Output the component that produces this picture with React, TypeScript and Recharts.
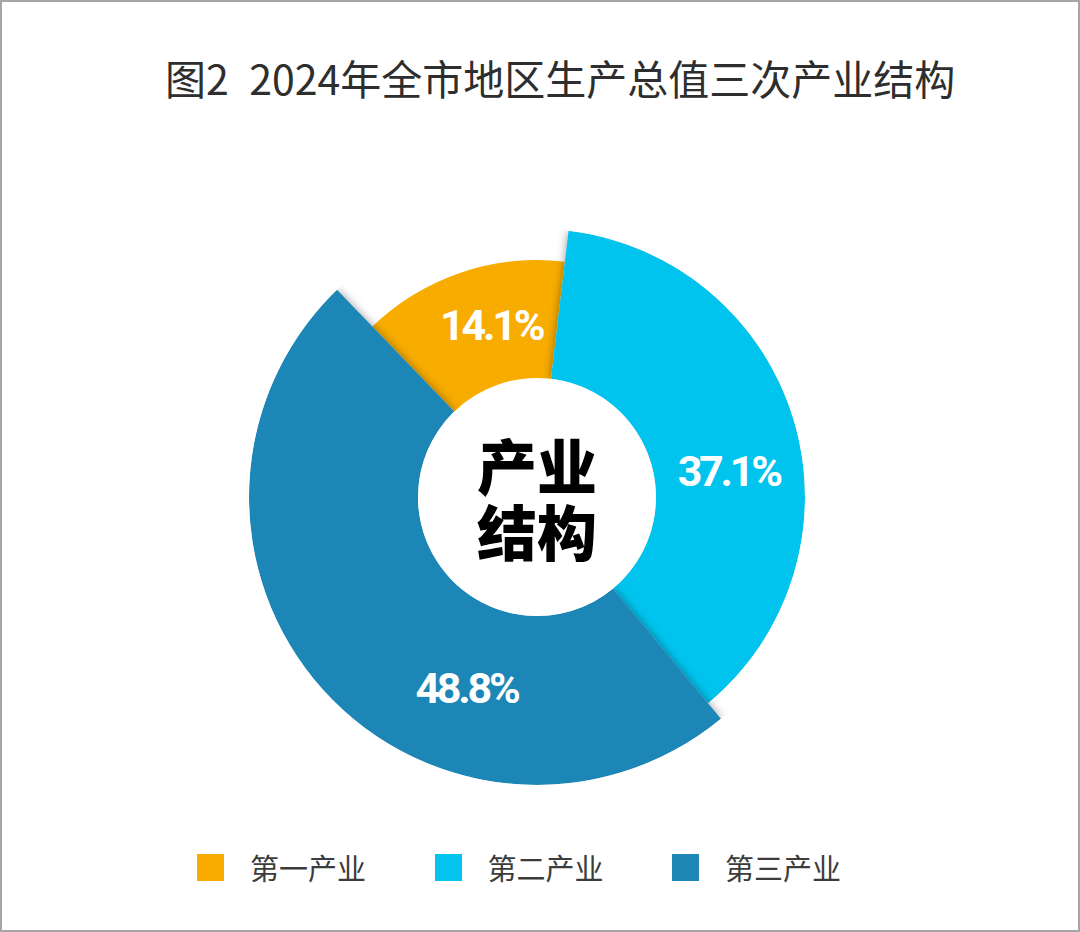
import React from 'react'
import { PieChart, Pie, Cell, Legend } from 'recharts'

// 2024 GDP structure by sector (%)
const categories = ['第一产业', '第二产业', '第三产业']
const shares = [14.1, 37.1, 48.8]

const colors = ['#F8AC00', '#05C4EE', '#1F87B6']
// each slice sticks out a bit further than the previous one
const outerRadii = [237, 268, 288]
// nudges the % labels off the slice middle, in degrees
const labelAngleShift = [-3.7, -8.8, 27.9]

const data = categories.map((name, i) => ({ name, value: shares[i] }))

const RADIAN = Math.PI / 180
const CX = 537
const CY = 497
const INNER = 119
const START = 134

const cjk = '"Noto Sans CJK SC", "Noto Sans", sans-serif'

// ring between the hole and a given radius, used to keep the shadow off the arcs
function ringPath(r1: number, r2: number) {
  const c = (r: number) =>
    `M${CX - r},${CY} a${r},${r} 0 1,0 ${2 * r},0 a${r},${r} 0 1,0 ${-2 * r},0 Z`
  return c(r2) + ' ' + c(r1)
}

function makeLabel(slice: number) {
  return (props: any) => {
    if (props.index !== slice) return null
    const { cx, cy, midAngle, innerRadius, outerRadius, value } = props
    const a = (midAngle + labelAngleShift[slice]) * RADIAN
    const r = (innerRadius + outerRadius) / 2
    return (
      <text
        x={cx + r * Math.cos(a)}
        y={cy - r * Math.sin(a)}
        fill="#fff"
        textAnchor="middle"
        dominantBaseline="central"
        fontFamily="Roboto, sans-serif"
        fontWeight={700}
        fontSize={43}
        letterSpacing={-3.2}
      >
        {`${value}%`}
      </text>
    )
  }
}

function LegendBox() {
  return (
    <div style={{ display: 'flex', paddingLeft: 197, height: 27 }}>
      {categories.map((name, i) => (
        <div key={name} style={{ display: 'flex', alignItems: 'center', width: 237.5 }}>
          <span style={{ width: 27, height: 27, background: colors[i], display: 'inline-block' }} />
          <span
            style={{
              marginLeft: 26,
              fontFamily: cjk,
              fontSize: 29,
              lineHeight: '27px',
              color: '#3c3c3c',
            }}
          >
            {name}
          </span>
        </div>
      ))}
    </div>
  )
}

const centerLine: React.CSSProperties = {
  position: 'absolute',
  left: CX - 100,
  width: 200,
  textAlign: 'center',
  fontFamily: cjk,
  fontWeight: 900,
  fontSize: 60,
  lineHeight: '60px',
  color: '#000',
}

export default function App(): React.JSX.Element {
  return (
    <div
      style={{
        position: 'relative',
        width: 1080,
        height: 932,
        background: '#fff',
        boxShadow: 'inset 0 0 0 2px #a6a6a6',
      }}
    >
      <style>{`body{margin:0}
.slice-1 .recharts-pie-sector{filter:url(#sliceShadow);clip-path:url(#ring1)}
.slice-2 .recharts-pie-sector{filter:url(#sliceShadow);clip-path:url(#ring2)}`}</style>
      <svg width={0} height={0} style={{ position: 'absolute' }}>
        <defs>
          <filter id="sliceShadow" x="-20%" y="-20%" width="140%" height="140%">
            <feDropShadow dx={0} dy={0} stdDeviation={5} floodColor="#000" floodOpacity={0.4} />
          </filter>
          <clipPath id="ring1">
            <path d={ringPath(INNER, outerRadii[1])} clipRule="evenodd" />
          </clipPath>
          <clipPath id="ring2">
            <path d={ringPath(INNER, outerRadii[2])} clipRule="evenodd" />
          </clipPath>
        </defs>
      </svg>

      <div
        style={{
          position: 'absolute',
          left: 165,
          top: 57,
          fontFamily: cjk,
          fontWeight: 400,
          fontSize: 41,
          lineHeight: '41px',
          color: '#2e2e2e',
          whiteSpace: 'nowrap',
        }}
      >
        图2{'\u2002'}2024年全市地区生产总值三次产业结构
      </div>

      <PieChart width={1080} height={932} margin={{ top: 0, right: 0, bottom: 0, left: 0 }}>
        {outerRadii.map((outer, slice) => (
          <Pie
            key={slice}
            data={data}
            dataKey="value"
            nameKey="name"
            cx={CX}
            cy={CY}
            innerRadius={INNER}
            outerRadius={outer}
            startAngle={START}
            endAngle={START - 360}
            stroke="none"
            className={`slice-${slice}`}
            legendType="none"
            label={makeLabel(slice)}
            labelLine={false}
            isAnimationActive={false}
          >
            {data.map((entry, i) => (
              <Cell key={entry.name} fill={i === slice ? colors[i] : 'none'} />
            ))}
          </Pie>
        ))}
        <Legend
          content={() => <LegendBox />}
          wrapperStyle={{ top: 854, bottom: 'auto', left: 0, width: 1080 }}
        />
      </PieChart>

      <div style={{ ...centerLine, top: 434 }}>产业</div>
      <div style={{ ...centerLine, top: 500 }}>结构</div>
    </div>
  )
}
